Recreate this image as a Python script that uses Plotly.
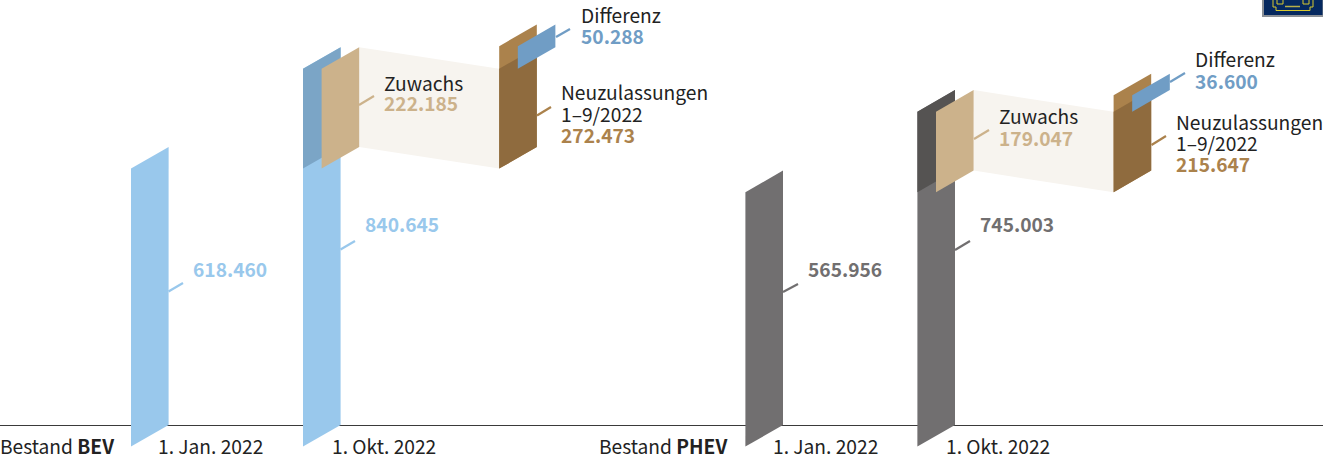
import plotly.graph_objects as go

W, H = 1323, 457
FONT = "Noto Sans CJK SC"
INK = "#222222"

# Data (vehicle counts)
bev_start, bev_end, bev_growth, bev_new, bev_diff = 618460, 840645, 222185, 272473, 50288
phev_start, phev_end, phev_growth, phev_new, phev_diff = 565956, 745003, 179047, 215647, 36600
date_labels = ["1. Jan. 2022", "1. Okt. 2022"]

# Scale: pixels per vehicle, baseline pixel, skew
PX = 0.4495 / 1000
BASE = 425
SKEW = 21.6 / PX          # rise of a panel over its width, in value units
BW = 37.6                 # panel width on the x axis


def panel(x, lo, hi, color, width=BW, rise=SKEW):
    """Skewed panel: x is the left edge; lo/hi are values at its right edge."""
    r = rise
    return go.Scatter(
        x=[x, x + width, x + width, x, x],
        y=[lo - r, lo, hi, hi - r, lo - r],
        mode="lines", line=dict(width=0), fill="toself", fillcolor=color,
        hoverinfo="skip", showlegend=False,
    )


def group(fig, x1, x2, x3, start, end, growth, new, diff, bar, bar_dark):
    # x1 first bar, x2 second bar, x3 new-registrations panel
    fig.add_trace(panel(x1, 0, start, bar))
    fig.add_trace(panel(x2, 0, end, bar))
    fig.add_trace(panel(x2, end - growth, end, bar_dark))
    # band between growth and registrations
    xb0 = x2 + 18.6 + BW
    fig.add_trace(go.Scatter(
        x=[xb0, x3, x3, xb0, xb0],
        y=[start, start - SKEW, end - SKEW, end, start],
        mode="lines", line=dict(width=0), fill="toself", fillcolor="#f7f4ef",
        hoverinfo="skip", showlegend=False))
    fig.add_trace(panel(x2 + 18.6, start, end, "#ccb28b"))
    fig.add_trace(panel(x3, start, start + new, "#ab824c"))
    fig.add_trace(panel(x3, start, end, "#8f6b3e"))
    fig.add_trace(panel(x3 + 18.6, end, end + diff, "#709dc5"))


fig = go.Figure()
group(fig, 131, 303, 499.2, bev_start, bev_end, bev_growth, bev_new, bev_diff, "#99c8ec", "#7ba5c6")
group(fig, 745.4, 917.4, 1113.6, phev_start, phev_end, phev_growth, phev_new, phev_diff, "#716f70", "#555352")


def yp(p):
    return 1 - p / H


shapes = [dict(type="line", xref="x", yref="paper", x0=0, x1=W, y0=yp(BASE + 0.5), y1=yp(BASE + 0.5),
               line=dict(color="#3a3a3a", width=1), layer="below")]
leaders = [
    (168.5, 291.5, 183, 283, "#99c8ec"), (340.5, 249.5, 355, 241, "#99c8ec"),
    (359, 105, 374, 96, "#ccb28b"), (537, 115.5, 551, 107, "#ab824c"),
    (556, 37, 570, 29, "#709dc5"), (783, 292, 798, 284, "#716f70"),
    (955, 250, 970, 241, "#716f70"), (974, 139, 989, 130, "#ccb28b"),
    (1151.5, 145, 1166, 136, "#ab824c"), (1170, 82, 1185, 73, "#709dc5"),
]
for x0, y0, x1, y1, c in leaders:
    shapes.append(dict(type="line", xref="x", yref="paper", x0=x0, x1=x1, y0=yp(y0), y1=yp(y1),
                       line=dict(color=c, width=2.2)))

# Emblem in the top right corner
YEL = "#d8c92e"
shapes += [
    dict(type="rect", xref="x", yref="paper", x0=1263, x1=1323.5, y0=yp(16), y1=yp(-3),
         fillcolor="#05285f", line=dict(color="#8a8f96", width=2)),
    dict(type="path", xref="x", yref="paper",
         path=f"M 1273 {yp(0)} L 1273 {yp(7)} L 1276 {yp(7)} L 1276 {yp(10.5)} L 1310 {yp(10.5)} "
              f"L 1310 {yp(7)} L 1313 {yp(7)} L 1313 {yp(0)}",
         line=dict(color=YEL, width=1)),
    dict(type="rect", xref="x", yref="paper", x0=1277, x1=1283, y0=yp(4), y1=yp(-1),
         line=dict(color=YEL, width=1)),
    dict(type="rect", xref="x", yref="paper", x0=1303, x1=1309, y0=yp(4), y1=yp(-1),
         line=dict(color=YEL, width=1)),
    dict(type="line", xref="x", yref="paper", x0=1285, x1=1300, y0=yp(6.5), y1=yp(6.5),
         line=dict(color="#b8b04a", width=1.5)),
]
fig.update_layout(shapes=shapes)


def label(x, p, text, color=INK, bold=False):
    fig.add_annotation(x=x, y=yp(p), xref="x", yref="paper", text=f"<b>{text}</b>" if bold else text,
                       showarrow=False, xanchor="left", yanchor="middle", xshift=-2.2, yshift=0.7,
                       font=dict(family=FONT, size=19.2, color=color))


def fmt(v):
    return f"{v:,}".replace(",", ".")


label(193, 270, fmt(bev_start), "#99c8ec", True)
label(365, 225, fmt(bev_end), "#99c8ec", True)
label(384, 84, "Zuwachs")
label(384, 104, fmt(bev_growth), "#ccb28b", True)
label(561, 93, "Neuzulassungen")
label(561, 114.5, "1–9/2022")
label(561, 136, fmt(bev_new), "#ab824c", True)
label(581, 16, "Differenz")
label(581, 37, fmt(bev_diff), "#709dc5", True)

label(808, 270, fmt(phev_start), "#716f70", True)
label(980, 225, fmt(phev_end), "#716f70", True)
label(999, 117, "Zuwachs")
label(999, 139, fmt(phev_growth), "#ccb28b", True)
label(1176, 123, "Neuzulassungen")
label(1176, 144, "1–9/2022")
label(1176, 165, fmt(phev_new), "#ab824c", True)
label(1195, 60, "Differenz")
label(1195, 82, fmt(phev_diff), "#709dc5", True)

label(0, 447, "Bestand <b>BEV</b>")
label(158, 447, date_labels[0])
label(332, 447, date_labels[1])
label(599, 447, "Bestand <b>PHEV</b>")
label(773, 447, date_labels[0])
label(946, 447, date_labels[1])

fig.update_layout(
    width=W, height=H, margin=dict(l=0, r=0, t=0, b=0, pad=0),
    paper_bgcolor="white", plot_bgcolor="white", showlegend=False,
    xaxis=dict(range=[0, W], visible=False, fixedrange=True),
    yaxis=dict(range=[(BASE - H) / PX, BASE / PX], visible=False, fixedrange=True),
)
fig.write_html("out.html", config={"displayModeBar": False},
               post_script="document.body.style.margin='0';document.documentElement.style.overflow='hidden';")
